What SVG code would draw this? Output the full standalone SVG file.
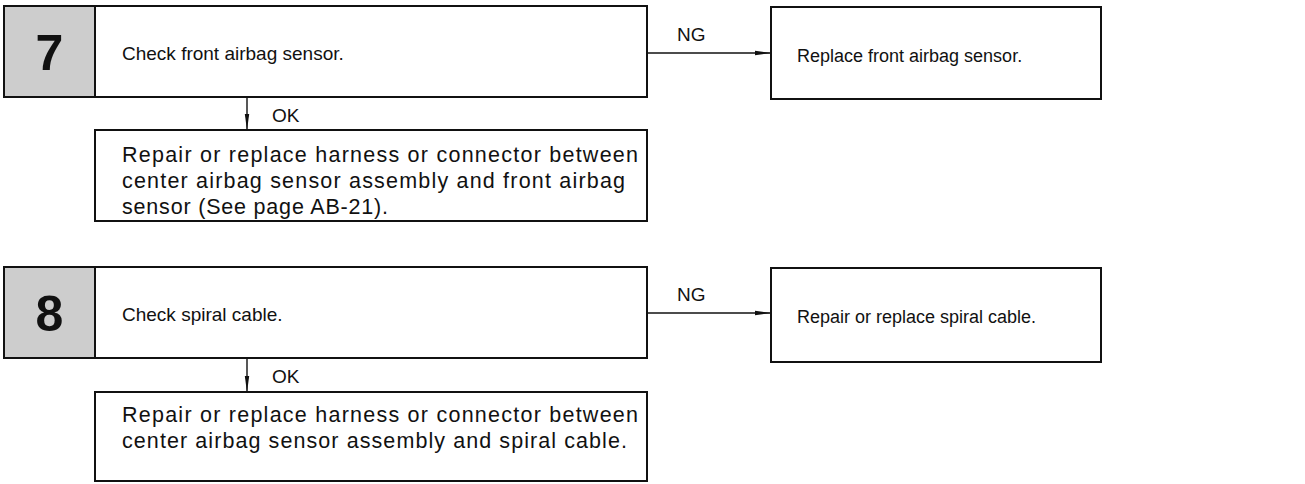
<svg xmlns="http://www.w3.org/2000/svg" width="1305" height="484" viewBox="0 0 1305 484">
<style>
.box{fill:#fff;stroke:#111;stroke-width:2}
.num{fill:#cdcdcd;stroke:#111;stroke-width:2}
.t{font-family:"Liberation Sans",Arial,sans-serif;font-size:19px;fill:#111}
.r{font-family:"Liberation Sans",Arial,sans-serif;font-size:18px;fill:#111}
.b{font-family:"Liberation Sans",Arial,sans-serif;font-size:21.5px;fill:#111}
.n{font-family:"Liberation Sans",Arial,sans-serif;font-size:50px;font-weight:bold;fill:#111}
.c{stroke:#111;stroke-width:1.4;fill:none}
</style>
<defs>
<marker id="ah" markerWidth="16" markerHeight="6" refX="16" refY="3" orient="auto" markerUnits="userSpaceOnUse">
<path d="M0,0.8 L16,3 L0,5.2 Z" fill="#111"/>
</marker>
</defs>
<g id="connectors">
<line class="c" x1="647" y1="53" x2="771" y2="53" marker-end="url(#ah)"/>
<text class="t" x="677" y="41">NG</text>
<line class="c" x1="247" y1="97" x2="247" y2="130" marker-end="url(#ah)"/>
<text class="t" x="272" y="122">OK</text>
<line class="c" x1="647" y1="313" x2="771" y2="313" marker-end="url(#ah)"/>
<text class="t" x="677" y="301">NG</text>
<line class="c" x1="247" y1="358" x2="247" y2="392" marker-end="url(#ah)"/>
<text class="t" x="272" y="383">OK</text>
</g>
<g id="step7">
<rect class="box" x="4" y="6" width="643" height="91"/>
<rect class="num" x="4" y="6" width="91" height="91"/>
<text class="n" x="49.5" y="70" text-anchor="middle">7</text>
<text class="t" x="122" y="60">Check front airbag sensor.</text>
</g>
<g id="replace-front">
<rect class="box" x="771" y="7" width="330" height="92"/>
<text class="r" x="797" y="62">Replace front airbag sensor.</text>
</g>
<g id="repair7">
<rect class="box" x="95" y="130" width="552" height="91"/>
<text class="b" x="122" y="162" textLength="516">Repair or replace harness or connector between</text>
<text class="b" x="122" y="188" textLength="503">center airbag sensor assembly and front airbag</text>
<text class="b" x="122" y="214" textLength="266">sensor (See page AB-21).</text>
</g>
<g id="step8">
<rect class="box" x="4" y="267" width="643" height="91"/>
<rect class="num" x="4" y="267" width="91" height="91"/>
<text class="n" x="49.5" y="331" text-anchor="middle">8</text>
<text class="t" x="122" y="321">Check spiral cable.</text>
</g>
<g id="replace-spiral">
<rect class="box" x="771" y="268" width="330" height="94"/>
<text class="r" x="797" y="323">Repair or replace spiral cable.</text>
</g>
<g id="repair8">
<rect class="box" x="95" y="392" width="552" height="89"/>
<text class="b" x="122" y="422" textLength="516">Repair or replace harness or connector between</text>
<text class="b" x="122" y="448" textLength="505">center airbag sensor assembly and spiral cable.</text>
</g>
</svg>
